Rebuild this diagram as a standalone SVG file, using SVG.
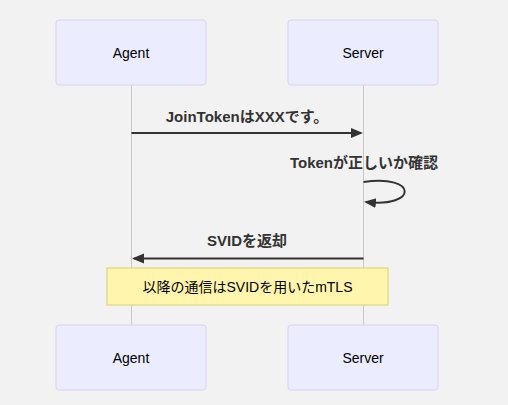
<svg xmlns="http://www.w3.org/2000/svg" width="508" height="405" viewBox="0 0 508 405">
<style>
.bg{fill:#f2f2f2}
.actor rect{fill:#ececff;stroke:#d9d1f5;stroke-width:1}
.actor text{font-family:"Liberation Sans",Arial,sans-serif;font-size:14px;fill:#000;text-anchor:middle;dominant-baseline:central}
.life{stroke:#c8c8c8;stroke-width:1}
.msg{stroke:#333;stroke-width:2;fill:none}
.mtext{font-family:"Liberation Sans","Noto Sans CJK JP",sans-serif;font-size:15px;font-weight:bold;fill:#333;text-anchor:middle;dominant-baseline:central}
.note rect{fill:#fff5ad;stroke:#d8d26a;stroke-width:1}
.note text{font-family:"Liberation Sans","Noto Sans CJK JP",sans-serif;font-size:14px;fill:#000;text-anchor:middle;dominant-baseline:central}
</style>
<defs>
<marker id="ah" markerWidth="12" markerHeight="12" refX="10" refY="5" orient="auto" markerUnits="userSpaceOnUse" viewBox="0 0 12 10">
<path d="M0,0 L12,5 L0,10 z" fill="#333"/>
</marker>
</defs>
<rect class="bg" x="0" y="0" width="508" height="405"/>
<g id="lifelines">
<line class="life" x1="131.5" y1="85" x2="131.5" y2="325"/>
<line class="life" x1="363.5" y1="85" x2="363.5" y2="325"/>
</g>
<g id="agent-top" class="actor"><rect x="56" y="20" width="150" height="65" rx="3"/><text x="131" y="52.5">Agent</text></g>
<g id="server-top" class="actor"><rect x="288" y="20" width="150" height="65" rx="3"/><text x="363" y="52.5">Server</text></g>
<g id="agent-bottom" class="actor"><rect x="56" y="325" width="150" height="65" rx="3"/><text x="131" y="357.5">Agent</text></g>
<g id="server-bottom" class="actor"><rect x="288" y="325" width="150" height="65" rx="3"/><text x="363" y="357.5">Server</text></g>
<g id="connectors">
<line class="msg" x1="131.5" y1="133" x2="361" y2="133" marker-end="url(#ah)"/>
<text class="mtext" x="247" y="116">JoinTokenはXXXです。</text>
<path class="msg" d="M363.5,182 C418,174 418,208 366,202" marker-end="url(#ah)"/>
<text class="mtext" x="364" y="162">Tokenが正しいか確認</text>
<line class="msg" x1="363.5" y1="258.5" x2="134" y2="258.5" marker-end="url(#ah)"/>
<text class="mtext" x="247" y="240">SVIDを返却</text>
</g>
<g id="note" class="note"><rect x="107" y="268" width="281" height="37"/><text x="247.5" y="286.5">以降の通信はSVIDを用いたmTLS</text></g>
</svg>
